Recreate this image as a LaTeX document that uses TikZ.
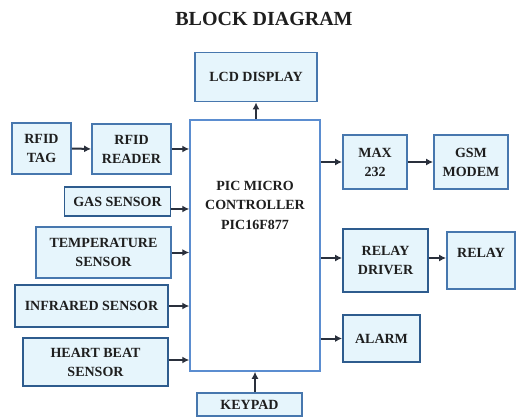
\documentclass[tikz,border=0pt]{standalone}
\usepackage{fontspec}
\setmainfont{Liberation Serif}
\usetikzlibrary{arrows.meta}
\definecolor{bord}{HTML}{4777AE}
\definecolor{bordd}{HTML}{2E5C8E}
\definecolor{boxfill}{HTML}{E6F5FC}
\definecolor{picbord}{HTML}{5B8DD0}
\definecolor{arrcol}{HTML}{2A303C}
\definecolor{txt}{HTML}{1E1E1E}
\tikzset{
  blk/.style={draw=bord, line width=1.8pt, fill=boxfill, rectangle, align=center,
    inner sep=1pt, text=txt, font=\fontsize{14}{19}\selectfont\bfseries},
  blkd/.style={blk, draw=bordd},
  arr/.style={draw=arrcol, line width=2pt, -{Latex[length=7pt,width=7pt]}},
}
\begin{document}
\begin{tikzpicture}[x=1pt,y=-1pt]
\useasboundingbox (0,0) rectangle (518,419);
\node[text=txt, font=\fontsize{20}{24}\selectfont\bfseries] (title) at (264,19) {BLOCK DIAGRAM};
% controller
\node[draw=picbord, line width=1.5pt, fill=white, minimum width=130, minimum height=251] (pic) at (255,245.5) {};
\node[align=center, text=txt, font=\fontsize{14}{19.5}\selectfont\bfseries] (pictext) at (255,205)
  {PIC MICRO\\CONTROLLER\\PIC16F877};
\node[blk, minimum width=122, minimum height=49] (lcd) at (256,77) {LCD DISPLAY};
\node[blk, minimum width=105, minimum height=23] (kp) at (249.5,404.5) {KEYPAD};
% left blocks
\node[blk, minimum width=59, minimum height=51] (tag) at (41.5,148.5) {RFID\\TAG};
\node[blk, minimum width=79, minimum height=50] (reader) at (131.5,149) {RFID\\READER};
\node[blkd, minimum width=106, minimum height=29] (gas) at (117.5,201.5) {GAS SENSOR};
\node[blk, minimum width=135, minimum height=51] (temp) at (103.5,252.5) {TEMPERATURE\\SENSOR};
\node[blkd, minimum width=153, minimum height=42] (ir) at (91.5,306) {INFRARED SENSOR};
\node[blkd, minimum width=145, minimum height=48] (heart) at (95.5,362) {HEART BEAT\\SENSOR};
% right blocks
\node[blk, minimum width=64, minimum height=54] (max) at (375,162) {MAX\\232};
\node[blk, minimum width=74, minimum height=54] (gsm) at (471,162) {GSM\\MODEM};
\node[blkd, minimum width=85, minimum height=63] (drv) at (385.5,260.5) {RELAY\\DRIVER};
\node[blk, minimum width=68, minimum height=57, text depth=16pt] (relay) at (481,260.5) {RELAY};
\node[blkd, minimum width=77, minimum height=47] (alarm) at (381.5,338.5) {ALARM};
% connectors
\draw[arr] (tag.east) -- (reader.west);
\draw[arr] (reader.east) -- (reader.east -| pic.west);
\draw[arr] ([yshift=-7.5pt]gas.east) -- ([yshift=-7.5pt]gas.east -| pic.west);
\draw[arr] (temp.east) -- (temp.east -| pic.west);
\draw[arr] (ir.east) -- (ir.east -| pic.west);
\draw[arr] ([yshift=2pt]heart.east) -- ([yshift=2pt]heart.east -| pic.west);
\draw[arr] (lcd.south |- pic.north) -- (lcd.south);
\draw[arr] (kp.north -| pic.south) -- (pic.south);
\draw[arr] (max.west -| pic.east) -- (max.west);
\draw[arr] (max.east) -- (gsm.west);
\draw[arr] ([yshift=2.5pt]drv.west -| pic.east) -- ([yshift=2.5pt]drv.west);
\draw[arr] ([yshift=2.5pt]drv.east) -- ([yshift=2.5pt]drv.east -| relay.west);
\draw[arr] (alarm.west -| pic.east) -- (alarm.west);
\end{tikzpicture}
\end{document}
